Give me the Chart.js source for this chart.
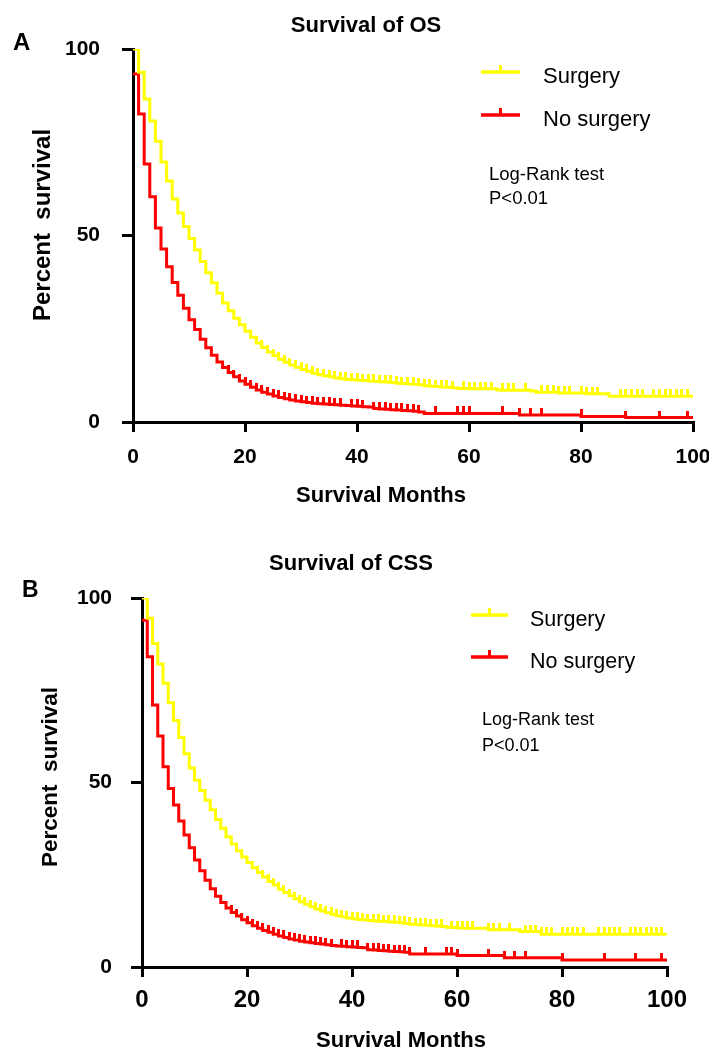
<!DOCTYPE html>
<html><head><meta charset="utf-8">
<script src="https://cdn.jsdelivr.net/npm/chart.js@4/dist/chart.umd.min.js"></script>
<style>
html,body{margin:0;padding:0;background:#fff;}
#wrap{position:relative;width:709px;height:1050px;background:#fff;}
.box{position:absolute;left:0;width:709px;height:525px;}
</style></head><body>
<div id="wrap">
<div class="box" style="top:0px"><canvas id="cA" width="709" height="525"></canvas></div>
<div class="box" style="top:525px"><canvas id="cB" width="709" height="525"></canvas></div>
</div>
<script>
// ---------- DATA ----------
const months = [0,1,2,3,4,5,6,7,8,9,10,11,12,13,14,15,16,17,18,19,20,21,22,23,24,25,26,27,28,29,30,31,32,33,34,35,36,37,38,39,40,41,42,43,44,45,46,47,48,49,50,51,52,53,54,55,56,57,58,59,60,61,62,63,64,65,66,67,68,69,70,71,72,73,74,75,76,77,78,79,80,81,82,83,84,85,86,87,88,89,90,91,92,93,94,95,96,97,98,99,100];
const xTicks = [0,20,40,60,80,100];
const yTicks = [0,50,100];
const seriesNames = ['Surgery','No surgery'];

// Survival of OS (%)
const osSurgery = [100,93.8,86.6,80.7,75.3,69.7,64.6,59.8,56.0,52.4,49.2,46.1,43.0,40.0,37.3,34.5,31.9,29.8,27.8,26.1,24.3,22.7,21.2,20.0,18.8,17.8,16.8,16.0,15.3,14.7,14.1,13.6,13.1,12.7,12.4,12.1,11.8,11.6,11.4,11.3,11.2,11.1,11.0,10.9,10.8,10.7,10.6,10.4,10.3,10.2,10.1,10.0,9.7,9.6,9.5,9.4,9.3,9.2,9.0,9.0,8.9,8.9,8.9,8.9,8.9,8.6,8.5,8.5,8.5,8.5,8.5,8.3,8.0,8.0,8.0,8.0,7.8,7.8,7.8,7.8,7.8,7.6,7.6,7.6,7.6,6.9,6.9,6.9,6.9,6.9,6.9,6.9,6.9,6.9,6.9,6.9,6.9,6.9,6.9,6.9,6.9];
const osNoSurgery = [93.3,82.6,69.2,60.4,52.0,46.4,41.6,37.4,34.0,30.5,27.4,24.8,22.2,19.9,17.9,16.1,14.6,13.3,12.1,11.0,10.1,9.3,8.6,8.0,7.5,7.0,6.6,6.2,5.9,5.6,5.4,5.2,5.0,4.9,4.8,4.7,4.6,4.5,4.4,4.3,4.2,4.1,4.0,3.6,3.5,3.4,3.3,3.2,3.1,3.0,2.9,2.7,2.3,2.3,2.3,2.3,2.3,2.3,2.3,2.3,2.3,2.3,2.3,2.3,2.3,2.3,2.3,2.3,2.3,1.9,1.9,1.9,1.9,1.9,1.9,1.9,1.9,1.9,1.9,1.9,1.5,1.5,1.5,1.5,1.5,1.5,1.5,1.5,1.2,1.2,1.2,1.2,1.2,1.2,1.2,1.2,1.2,1.2,1.2,1.2,1.2];
const osSurgeryCensored = [22,23,24,25,26,27,28,29,30,31,32,33,34,35,36,37,38,39,40,41,42,43,44,45,46,47,48,49,50,51,52,53,54,55,56,57,59,60,61,62,63,64,66,67,68,70,73,74,75,76,77,78,80,81,82,83,87,88,89,90,91,93,94,95,96,97,98,99];
const osNoSurgeryCensored = [17,18,19,20,21,22,23,24,25,26,27,28,29,30,31,32,33,34,35,36,37,39,40,41,43,44,45,46,47,48,49,50,51,54,58,59,60,66,69,71,73,80,88,94,99];

// Survival of CSS (%)
const cssSurgery = [100,94.5,87.7,82.1,76.9,71.6,66.8,62.2,57.8,53.9,50.6,47.8,45.2,42.6,40.0,37.6,35.3,33.3,31.5,29.8,28.3,26.9,25.6,24.4,23.2,22.2,21.1,20.2,19.3,18.5,17.7,17.0,16.3,15.7,15.2,14.7,14.3,13.9,13.6,13.3,13.1,12.9,12.8,12.6,12.5,12.4,12.3,12.2,12.1,12.0,11.8,11.6,11.5,11.4,11.3,11.2,11.1,11.0,10.8,10.7,10.6,10.5,10.5,10.5,10.5,10.5,10.1,10.1,10.1,10.1,10.1,10.1,9.6,9.6,9.6,9.6,8.9,8.9,8.9,8.9,8.9,8.9,8.9,8.9,8.9,8.9,8.9,8.9,8.9,8.9,8.9,8.9,8.9,8.9,8.9,8.9,8.9,8.9,8.9,8.9,8.9];
const cssNoSurgery = [94.0,84.1,71.0,62.6,54.3,48.4,43.9,39.6,35.8,32.3,29.0,26.1,23.5,21.2,19.2,17.5,16.0,14.8,13.8,12.8,12.0,11.2,10.5,9.9,9.4,8.9,8.4,8.0,7.6,7.3,7.0,6.8,6.6,6.4,6.2,6.0,5.8,5.7,5.6,5.5,5.4,5.3,5.2,4.7,4.6,4.5,4.4,4.3,4.2,4.1,4.0,3.5,3.5,3.5,3.5,3.5,3.5,3.5,3.5,3.5,3.1,3.1,3.1,3.1,3.1,3.1,3.1,3.1,3.1,2.5,2.5,2.5,2.5,2.5,2.5,2.5,2.5,2.5,2.5,2.5,1.9,1.9,1.9,1.9,1.9,1.9,1.9,1.9,1.9,1.9,1.9,1.9,1.9,1.9,1.9,1.9,1.9,1.9,1.9,1.9,1.9];
const cssSurgeryCensored = [22,23,24,25,26,27,28,29,30,31,32,33,34,35,36,37,38,39,40,41,42,43,44,45,46,47,48,49,50,51,52,53,54,55,56,57,59,60,61,62,63,66,67,68,70,73,74,75,76,77,78,80,81,82,83,84,87,88,89,90,91,93,94,95,96,97,98,99];
const cssNoSurgeryCensored = [17,18,19,20,21,22,23,24,25,26,27,28,29,30,31,32,33,34,35,36,38,39,40,41,43,44,45,46,47,48,49,50,51,54,58,59,60,66,69,71,73,80,88,94,99];

// ---------- STYLE ----------
const FONT = "'Liberation Sans', Arial, Helvetica, sans-serif";
const YELLOW = '#ffff00', RED = '#ff0000';

function tickImage(color){
  const c = document.createElement('canvas');
  c.width = 3; c.height = 14;
  const g = c.getContext('2d');
  g.fillStyle = color; g.fillRect(0, 0, 3, 7);
  return c;
}

function makeDataset(label, values, censored, color){
  const img = tickImage(color);
  return {
    label: label,
    data: months.map((m, i) => ({x: m, y: values[i]})),
    borderColor: color,
    backgroundColor: color,
    borderWidth: 3,
    stepped: 'before',
    fill: false,
    pointStyle: img,
    pointRadius: ctx => censored.includes(months[ctx.dataIndex]) ? 3 : 0,
    pointHoverRadius: 0,
    tension: 0
  };
}

const annotPlugin = {
  id: 'annot',
  afterDraw(chart, args, o) {
    const ctx = chart.ctx;
    const F = (w, s) => w + ' ' + s + 'px ' + FONT;
    ctx.save();
    ctx.fillStyle = '#000';
    ctx.textBaseline = 'alphabetic';
    ctx.textAlign = 'left';
    ctx.font = F('bold', o.letterSize);
    ctx.fillText(o.letter, o.letterX, o.letterY);
    ctx.textAlign = 'center';
    ctx.font = F('bold', o.titleSize);
    ctx.fillText(o.title, o.titleX, o.titleY);
    ctx.font = F('bold', o.xTitleSize);
    ctx.fillText(o.xTitle, o.xTitleX, o.xTitleY);
    ctx.save();
    ctx.translate(o.yTitleX, o.yTitleY);
    ctx.rotate(-Math.PI / 2);
    ctx.font = F('bold', o.yTitleSize);
    ctx.fillText(o.yTitle, 0, 0);
    ctx.restore();
    chart.data.datasets.forEach((ds, i) => {
      const y = o.legY[i];
      ctx.strokeStyle = ds.borderColor;
      ctx.lineWidth = 3.5;
      ctx.beginPath(); ctx.moveTo(o.legX1, y); ctx.lineTo(o.legX2, y); ctx.stroke();
      const mx = (o.legX1 + o.legX2) / 2;
      ctx.lineWidth = 3;
      ctx.beginPath(); ctx.moveTo(mx, y); ctx.lineTo(mx, y - 7); ctx.stroke();
      ctx.fillStyle = '#000';
      ctx.textAlign = 'left';
      ctx.font = F('normal', o.legSize);
      ctx.fillText(ds.label, o.legTextX, o.legTextY[i]);
    });
    ctx.font = F('normal', o.noteSize);
    ctx.textAlign = 'left';
    o.note.forEach((t, i) => ctx.fillText(t, o.noteX, o.noteY[i]));
    ctx.restore();
  }
};

function makeChart(id, dsets, geo, annot){
  return new Chart(document.getElementById(id), {
    type: 'line',
    data: { datasets: dsets },
    plugins: [annotPlugin],
    options: {
      responsive: false,
      animation: false,
      events: [],
      devicePixelRatio: 1,
      layout: { padding: { left: 0, top: geo.top, right: geo.right, bottom: 0 } },
      plugins: { legend: { display: false }, tooltip: { enabled: false }, title: { display: false }, annot: annot },
      scales: {
        x: {
          type: 'linear', min: 0, max: 100,
          afterBuildTicks: s => { s.ticks = xTicks.map(v => ({value: v})); },
          afterFit: s => { s.height = geo.xHeight; s.paddingLeft = 0; s.paddingRight = 0; },
          ticks: { color: '#000', font: { family: FONT, size: geo.xFont, weight: 'bold' }, padding: geo.xPad, maxRotation: 0, autoSkip: false },
          grid: { drawOnChartArea: false, drawTicks: true, tickLength: 10, color: '#000', lineWidth: 3 },
          border: { display: true, color: '#000', width: 3 }
        },
        y: {
          type: 'linear', min: 0, max: 100,
          afterBuildTicks: s => { s.ticks = yTicks.map(v => ({value: v})); },
          afterFit: s => { s.width = geo.yWidth; s.paddingTop = 0; s.paddingBottom = 0; },
          ticks: { color: '#000', font: { family: FONT, size: geo.yFont, weight: 'bold' }, padding: geo.yPad, autoSkip: false },
          grid: { drawOnChartArea: false, drawTicks: true, tickLength: 11, color: '#000', lineWidth: 3 },
          border: { display: true, color: '#000', width: 3 }
        }
      }
    }
  });
}

makeChart('cA', [
  makeDataset(seriesNames[0], osSurgery, osSurgeryCensored, YELLOW),
  makeDataset(seriesNames[1], osNoSurgery, osNoSurgeryCensored, RED)
], { top: 49, right: 16, xHeight: 103, yWidth: 133, xFont: 21, yFont: 21, xPad: 13, yPad: 22 }, {
  letter: 'A', letterX: 13, letterY: 50, letterSize: 24,
  title: 'Survival of OS', titleX: 366, titleY: 32, titleSize: 22,
  xTitle: 'Survival Months', xTitleX: 381, xTitleY: 502, xTitleSize: 22,
  yTitle: 'Percent  survival', yTitleX: 50, yTitleY: 225, yTitleSize: 24,
  legX1: 481, legX2: 520, legY: [72, 115], legTextX: 543, legTextY: [83, 126], legSize: 22,
  note: ['Log-Rank test', 'P<0.01'], noteX: 489, noteY: [180, 204], noteSize: 18.5
});

makeChart('cB', [
  makeDataset(seriesNames[0], cssSurgery, cssSurgeryCensored, YELLOW),
  makeDataset(seriesNames[1], cssNoSurgery, cssNoSurgeryCensored, RED)
], { top: 73, right: 42, xHeight: 83, yWidth: 142, xFont: 24, yFont: 21, xPad: 9, yPad: 19 }, {
  letter: 'B', letterX: 22, letterY: 72, letterSize: 23,
  title: 'Survival of CSS', titleX: 351, titleY: 45, titleSize: 22,
  xTitle: 'Survival Months', xTitleX: 401, xTitleY: 522, xTitleSize: 22,
  yTitle: 'Percent  survival', yTitleX: 57, yTitleY: 252, yTitleSize: 22.5,
  legX1: 471, legX2: 508, legY: [90, 132], legTextX: 530, legTextY: [101, 143], legSize: 21.5,
  note: ['Log-Rank test', 'P<0.01'], noteX: 482, noteY: [200, 226], noteSize: 18
});
</script>
</body></html>
